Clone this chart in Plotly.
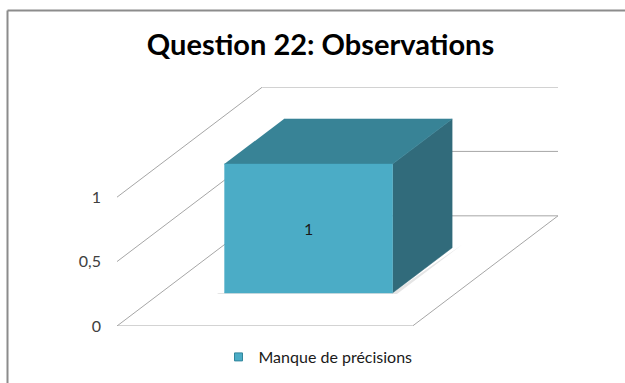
import plotly.graph_objects as go

# ---- data -------------------------------------------------------------
categories = ["Manque de précisions"]
values = [1]
tick_values = [0, 0.5, 1]
tick_labels = ["0", "0,5", "1"]
title_text = "Question 22: Observations"

# ---- 3-D look: oblique projection of the depth axis ------------------
DEPTH_X = 0.492      # horizontal shift of the back wall, in category widths
DEPTH_Y = 0.855      # vertical shift of the back wall, in value units
GAP = 0.2155         # empty space on each side of a bar, in category widths
BAR_FRONT, BAR_BACK = 0.30, 0.71   # depth span of the bars (0 = front, 1 = back)

FRONT_COL = "#4BACC6"
TOP_COL = "#388396"
SIDE_COL = "#316B7B"
GRID_COL = "#A6A6A6"
FONT = "Lato"

n = len(categories)
vmax = max(tick_values)


def proj(x, y, d):
    """Project a point (x along categories, y value, d depth 0..1) onto the plane."""
    return x + d * DEPTH_X, y + d * DEPTH_Y


def poly(points):
    xs, ys = zip(*[proj(*p) for p in points])
    return list(xs), list(ys)


fig = go.Figure()

# floor outline (front and right edges)
fx, fy = poly([(0, 0, 0), (n, 0, 0), (n, 0, 1)])
fig.add_trace(go.Scatter(x=fx, y=fy, mode="lines", line=dict(color=GRID_COL, width=1),
                         hoverinfo="skip", showlegend=False))

# gridlines: diagonal on the left wall, then along the back wall
for v in tick_values:
    gx, gy = poly([(0, v, 0), (0, v, 1), (n, v, 1)])
    fig.add_trace(go.Scatter(x=gx, y=gy, mode="lines", line=dict(color=GRID_COL, width=1),
                             hoverinfo="skip", showlegend=False))

# bars
annotations = []
for i, (cat, v) in enumerate(zip(categories, values)):
    x0, x1 = i + GAP, i + 1 - GAP
    f, b = BAR_FRONT, BAR_BACK
    # soft shadow on the floor
    sx, sy = poly([(x0 - 0.02, 0, f), (x1, 0, f), (x1 + 0.02, 0, b + 0.03), (x1 + 0.02, 0, f - 0.01),
                   (x0 - 0.02, 0, f - 0.01)])
    fig.add_trace(go.Scatter(x=sx, y=sy, mode="lines", fill="toself", fillcolor="rgba(0,0,0,0.10)",
                             line=dict(width=0), hoverinfo="skip", showlegend=False))
    faces = [
        ([(x1, 0, f), (x1, 0, b), (x1, v, b), (x1, v, f)], SIDE_COL),
        ([(x0, v, f), (x1, v, f), (x1, v, b), (x0, v, b)], TOP_COL),
        ([(x0, 0, f), (x1, 0, f), (x1, v, f), (x0, v, f)], FRONT_COL),
    ]
    for pts, col in faces:
        px, py = poly(pts)
        fig.add_trace(go.Scatter(x=px, y=py, mode="lines", fill="toself", fillcolor=col,
                                 line=dict(color=col, width=0.5), hoverinfo="skip",
                                 showlegend=False))
    cx, cy = proj((x0 + x1) / 2, v / 2, f)
    annotations.append(dict(x=cx, y=cy, xref="x", yref="y", text=str(v), showarrow=False,
                            font=dict(family=FONT, size=16, color="#1A1A1A")))

# legend entry
for cat in categories:
    fig.add_trace(go.Scatter(x=[None], y=[None], mode="markers", name=cat,
                             marker=dict(symbol="square", size=8, color=FRONT_COL,
                                         line=dict(color="#31869B", width=1))))

# plot-area placement (pixels)
L, R, T, B = 117, 67, 87, 57
W, H = 625, 383
pw, ph = W - L - R, H - T - B


def px_to_paper(x, y):
    return (x - L) / pw, (H - B - y) / ph


# chart frame (left and top edges)
bx0, by0 = px_to_paper(7.5, 10.5)
bx1, by1 = px_to_paper(640, 400)
shapes = [
    dict(type="line", xref="paper", yref="paper", x0=bx0, y0=by0, x1=bx0, y1=by1,
         line=dict(color="#8C8C8C", width=2)),
    dict(type="line", xref="paper", yref="paper", x0=bx0, y0=by0, x1=bx1, y1=by0,
         line=dict(color="#8C8C8C", width=2)),
]

fig.update_layout(
    width=W, height=H,
    margin=dict(l=L, r=R, t=T, b=B, autoexpand=False),
    paper_bgcolor="white", plot_bgcolor="white",
    separators=", ",
    font=dict(family=FONT, color="#404040"),
    title=dict(text=f"<b>{title_text}</b>", x=320.5 / W, xref="container", xanchor="center",
               y=1 - 45 / H, yref="container", yanchor="middle",
               font=dict(family=FONT, size=29, color="#000000")),
    xaxis=dict(range=[0, n + DEPTH_X], showgrid=False, zeroline=False, showline=False,
               showticklabels=False, ticks="", fixedrange=True),
    yaxis=dict(range=[0, vmax + DEPTH_Y], showgrid=False, zeroline=False, showline=False,
               tickvals=tick_values, ticktext=tick_labels, ticks="", ticklabelstandoff=15,
               tickfont=dict(family=FONT, size=16, color="#404040"), fixedrange=True),
    showlegend=True,
    legend=dict(orientation="h", xref="container", yref="container", x=318 / W, xanchor="center",
                y=1 - 357 / H, yanchor="middle", font=dict(family=FONT, size=16, color="#1A1A1A"),
                itemwidth=30, bgcolor="rgba(0,0,0,0)"),
    annotations=annotations,
    shapes=shapes,
)

fig.write_html("out.html")
